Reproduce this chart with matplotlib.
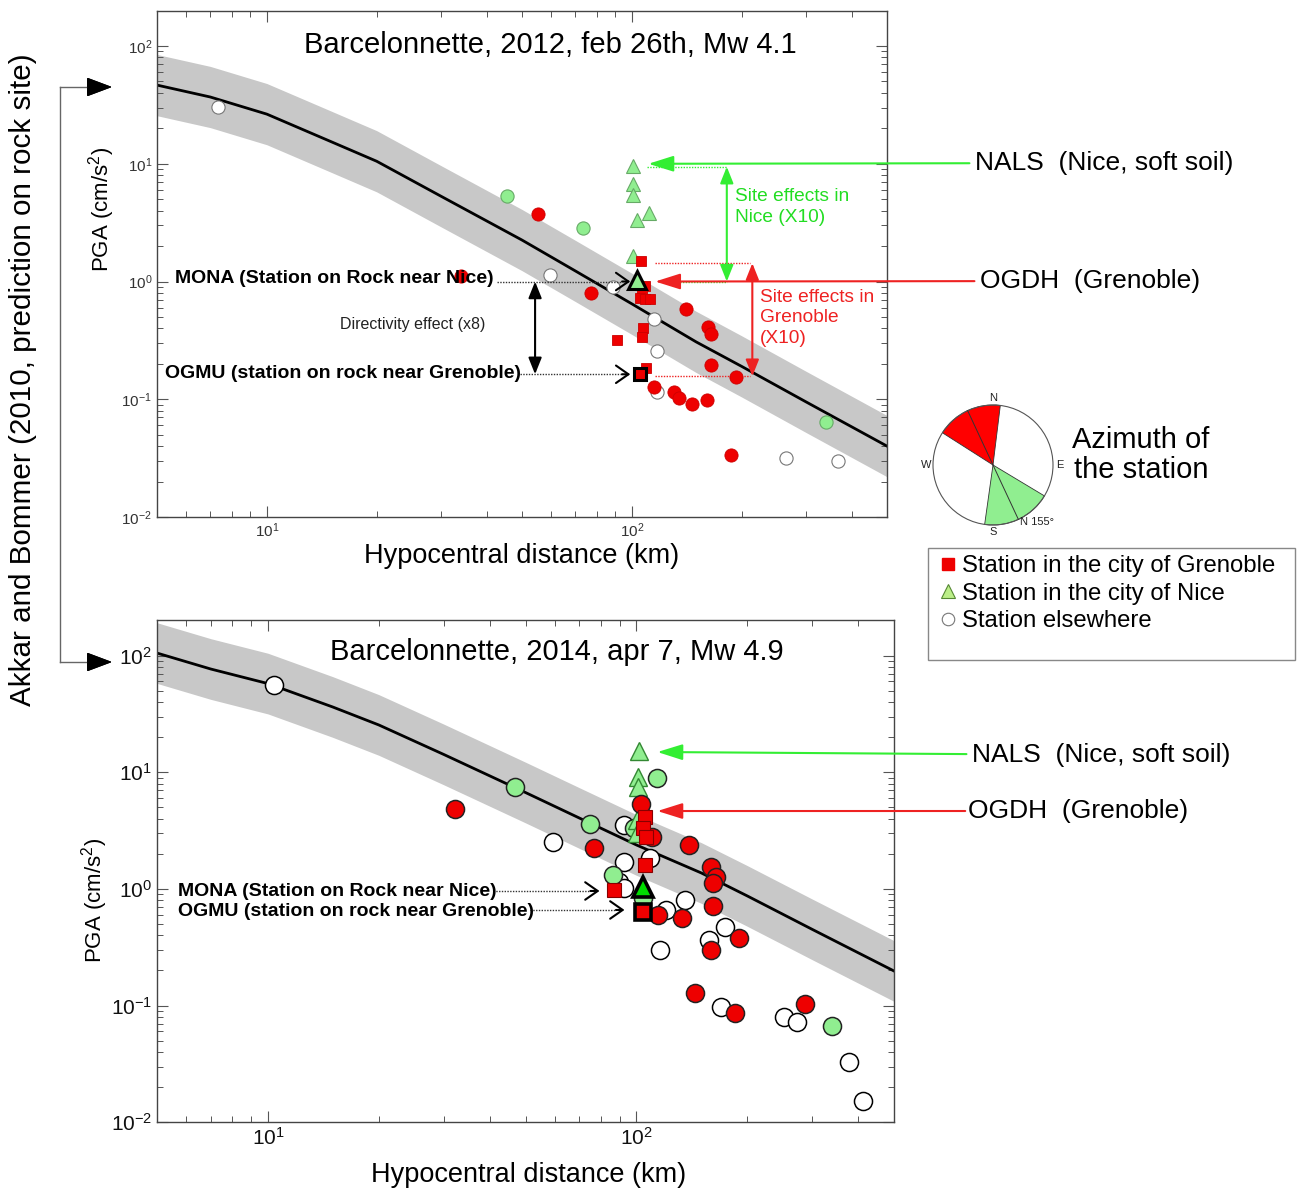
import numpy as np
import matplotlib
matplotlib.use('Agg')
import matplotlib.pyplot as plt
from matplotlib.patches import Wedge, Circle, Rectangle
from matplotlib.lines import Line2D

plt.rcParams['font.family'] = ['Liberation Sans', 'DejaVu Sans']
plt.rcParams['mathtext.fontset'] = 'custom'
plt.rcParams['mathtext.rm'] = 'Liberation Sans'
plt.rcParams['mathtext.it'] = 'Liberation Sans:italic'
plt.rcParams['mathtext.bf'] = 'Liberation Sans:bold'

# ------------------------- data -------------------------
curve_dist = [5, 7, 10, 15, 20, 30, 50, 70, 100, 150, 200, 300, 500]
curve_2012 = [46.6, 36.9, 26.4, 15.4, 10.5, 5.3, 2.25, 1.23, 0.646, 0.307, 0.19, 0.095, 0.04]
curve_2014 = [105, 76.6, 57.5, 36.2, 25.4, 14.2, 6.7, 4.05, 2.38, 1.37, 0.87, 0.45, 0.198]
sigma_log10 = 0.26

# 2012 event
t_red_circ_d = [34, 55.2, 77.3, 140.6, 161.5, 164.9, 164.9, 193, 115, 130.6, 135, 146.4, 160.4, 186.6]
t_red_circ_pga = [1.11, 3.74, 0.80, 0.58, 0.41, 0.357, 0.195, 0.155, 0.127, 0.1155, 0.103, 0.0908, 0.098, 0.0335]
t_red_sq_d = [106, 108.8, 106.5, 105.4, 108.8, 112.2, 107.6, 106.5, 90.9, 109.5]
t_red_sq_pga = [1.50, 0.92, 0.79, 0.72, 0.71, 0.71, 0.40, 0.335, 0.318, 0.185]
t_green_tri_d = [100.6, 100.6, 100.6, 111.1, 103, 101]
t_green_tri_pga = [9.6, 6.7, 5.4, 3.84, 3.3, 1.66]
t_green_circ_d = [45.6, 73.6, 340]
t_green_circ_pga = [5.35, 2.83, 0.0635]
t_white_d = [7.33, 59.7, 88.8, 115.3, 117.2, 117.5, 264.5, 368]
t_white_pga = [30.5, 1.13, 0.90, 0.485, 0.258, 0.1155, 0.032, 0.030]
t_mona = [103.6, 1.03]
t_ogmu = [105.4, 0.163]

# 2014 event
b_red_circ_d = [32.2, 76.6, 102.9, 110.3, 139.1, 159.2, 164.3, 161.7, 114.2, 132.9, 161.7, 159.2, 190, 144, 184.8, 287.4]
b_red_circ_pga = [4.81, 2.23, 5.34, 2.80, 2.38, 1.55, 1.27, 1.12, 0.60, 0.56, 0.72, 0.30, 0.378, 0.129, 0.086, 0.103]
b_red_sq_d = [105.8, 104.4, 106, 105.7, 87]
b_red_sq_pga = [4.11, 3.31, 2.8, 1.60, 0.98]
b_green_tri_d = [101.9, 100.9, 100.9, 100.5, 100.5]
b_green_tri_pga = [15.3, 9.15, 7.4, 3.9, 3.0]
b_green_circ_d = [46.8, 74.6, 113.5, 98.6, 86.3, 104, 339.3]
b_green_circ_pga = [7.5, 3.6, 8.87, 3.3, 1.32, 0.83, 0.0673]
b_white_d = [10.36, 59.2, 92.8, 92.8, 108.8, 89.9, 92.8, 120.3, 135.7, 174, 157.7, 116.2, 170.1, 251, 272, 376.5, 410.8]
b_white_pga = [55.9, 2.54, 3.53, 1.71, 1.83, 1.15, 1.01, 0.66, 0.80, 0.47, 0.365, 0.30, 0.098, 0.080, 0.0728, 0.033, 0.0153]
b_mona = [104, 1.04]
b_ogmu = [104, 0.64]

# azimuth sectors (degrees clockwise from north)
az_grenoble = [302.5, 7]
az_nice = [121, 188]
az_axis = 155

xticks = [10, 100]
yticks = [1e-2, 1e-1, 1, 10, 100]

# ------------------------- figure -------------------------
W, H = 1303, 1191
fig = plt.figure(figsize=(W / 100, H / 100), dpi=100)


def F(px, py):
    return (px / W, 1 - py / H)


RED = '#ee0000'
LGREEN = '#90ee90'
GREEN_LINE = '#33ee33'
RED_LINE = '#ee2222'

axT = fig.add_axes([157 / W, 1 - 517 / H, 730 / W, 506.4 / H])
axB = fig.add_axes([157 / W, 1 - 1122.3 / H, 737 / W, 501.9 / H])


def setup(ax, fs, col):
    ax.set_xscale('log')
    ax.set_yscale('log')
    ax.set_xlim(5, 500)
    ax.set_ylim(1e-2, 200)
    ax.set_xticks(xticks)
    ax.set_yticks(yticks)
    ax.tick_params(which='both', direction='in', top=True, right=True, colors='#555555',
                   labelcolor=col, labelsize=fs)
    ax.tick_params(which='major', length=8, width=0.8)
    ax.tick_params(which='minor', length=4, width=0.7)
    for s in ax.spines.values():
        s.set_color('#444444')
        s.set_linewidth(1.0)


setup(axT, 11, '#333333')
setup(axB, 15, '#111111')


def curve(ax, vals):
    d = np.array(curve_dist, float)
    v = np.array(vals, float)
    ax.fill_between(d, v / 10 ** sigma_log10, v * 10 ** sigma_log10, color='#c8c8c8', lw=0, zorder=1)
    ax.plot(d, v, color='black', lw=2, zorder=2)


curve(axT, curve_2012)
curve(axB, curve_2014)

# ---- top markers ----
axT.plot(t_white_d, t_white_pga, 'o', ms=9.5, mfc='white', mec='#777777', mew=0.8, zorder=4, ls='none')
axT.plot(t_green_circ_d, t_green_circ_pga, 'o', ms=9.5, mfc=LGREEN, mec='#66aa66', mew=0.8, zorder=4, ls='none')
axT.plot(t_green_tri_d, t_green_tri_pga, '^', ms=10.5, mfc=LGREEN, mec='#66aa66', mew=0.8, zorder=4, ls='none')
axT.plot(t_red_circ_d, t_red_circ_pga, 'o', ms=9.5, mfc=RED, mec='#cc0000', mew=0.6, zorder=5, ls='none')
axT.plot(t_red_sq_d, t_red_sq_pga, 's', ms=7.5, mfc=RED, mec='#cc0000', mew=0.6, zorder=5, ls='none')
axT.plot([t_mona[0]], [t_mona[1]], '^', ms=13, mfc=LGREEN, mec='black', mew=2.2, zorder=6)
axT.plot([t_ogmu[0]], [t_ogmu[1]], 's', ms=9, mfc=RED, mec='black', mew=2.2, zorder=6)

# ---- bottom markers ----
axB.plot(b_white_d, b_white_pga, 'o', ms=13, mfc='white', mec='black', mew=1.1, zorder=4, ls='none')
axB.plot(b_green_circ_d, b_green_circ_pga, 'o', ms=13, mfc=LGREEN, mec='#222222', mew=1.1, zorder=4, ls='none')
axB.plot(b_green_tri_d, b_green_tri_pga, '^', ms=12.5, mfc=LGREEN, mec='#338833', mew=1.0, zorder=4, ls='none')
axB.plot(b_red_circ_d, b_red_circ_pga, 'o', ms=13, mfc=RED, mec='#222222', mew=1.1, zorder=5, ls='none')
axB.plot(b_red_sq_d, b_red_sq_pga, 's', ms=10, mfc=RED, mec='#880000', mew=0.8, zorder=5, ls='none')
axB.plot([b_mona[0]], [b_mona[1]], '^', ms=14, mfc='#00dd00', mec='black', mew=2.6, zorder=6)
axB.plot([b_ogmu[0]], [b_ogmu[1]], 's', ms=11, mfc=RED, mec='black', mew=2.6, zorder=6)

# ---- titles / labels ----
fig.text(*F(550, 45), 'Barcelonnette, 2012, feb 26th, Mw 4.1', fontsize=21, ha='center', va='center')
fig.text(*F(557, 652), 'Barcelonnette, 2014, apr 7, Mw 4.9', fontsize=21, ha='center', va='center')
fig.text(*F(522, 556), 'Hypocentral distance (km)', fontsize=19.5, ha='center', va='center')
fig.text(*F(529, 1175), 'Hypocentral distance (km)', fontsize=19.5, ha='center', va='center')
fig.text(*F(102, 209), 'PGA (cm/s$^2$)', fontsize=16, ha='center', va='center', rotation=90)
fig.text(*F(95, 900), 'PGA (cm/s$^2$)', fontsize=16, ha='center', va='center', rotation=90)
fig.text(*F(23, 380), 'Akkar and Bommer (2010, prediction on rock site)', fontsize=21.3,
         ha='center', va='center', rotation=90)

# left bracket
fig.add_artist(Line2D([60 / W, 60 / W], [1 - 87 / H, 1 - 662 / H], color='#666666', lw=1))
for yy in (87, 662):
    fig.add_artist(Line2D([60 / W, 95 / W], [1 - yy / H, 1 - yy / H], color='#666666', lw=1))
    fig.add_artist(plt.annotate('', xy=F(112, yy), xytext=F(92, yy), xycoords='figure fraction',
                                textcoords='figure fraction',
                                arrowprops=dict(arrowstyle='-|>,head_length=0.8,head_width=0.3',
                                                color='black', lw=1, mutation_scale=20,
                                                shrinkA=0, shrinkB=0)))

# ---- top annotations ----
bold = dict(fontsize=14, fontweight='bold', va='center', ha='left')
fig.text(*F(175, 278), 'MONA (Station on Rock near Nice)', **bold, zorder=10)
fig.text(*F(165, 374), 'OGMU (station on rock near Grenoble)', **bold, zorder=10)
fig.text(*F(340, 324), 'Directivity effect (x8)', fontsize=11.5, va='center', ha='left', color='#222222')


def dotted_arrow(ax, x0, x1, y, tipx):
    ax.plot([x0, x1], [y, y], ls=(0, (1, 1)), color='#333333', lw=1, zorder=7)
    ax.annotate('', xy=(tipx, y), xytext=(x1, y),
                arrowprops=dict(arrowstyle='->,head_length=0.5,head_width=0.35', color='black',
                                lw=1.5, mutation_scale=18, shrinkA=0, shrinkB=0), zorder=7)


dotted_arrow(axT, 42.7, 94, 1.0, 99)
dotted_arrow(axT, 49.4, 94, 0.163, 99)

dbl = '<|-|>,head_length=0.5,head_width=0.2'
axT.annotate('', xy=(54.3, 1.0), xytext=(54.3, 0.163),
             arrowprops=dict(arrowstyle=dbl, color='black', lw=1.5, mutation_scale=20, shrinkA=0, shrinkB=0))

# green: site effects in Nice
axT.plot([109.8, 182], [9.44, 9.44], ls=(0, (1, 1)), color=GREEN_LINE, lw=1)
axT.plot([122, 182], [1.0, 1.0], ls=(0, (1, 1)), color=GREEN_LINE, lw=1)
axT.annotate('', xy=(182, 9.44), xytext=(182, 1.0),
             arrowprops=dict(arrowstyle=dbl, color=GREEN_LINE, lw=1.5, mutation_scale=20, shrinkA=0, shrinkB=0))
fig.text(*F(735, 207), 'Site effects in\nNice (X10)', fontsize=13.8, color='#22dd22', va='center',
         ha='left', linespacing=1.27)

# red: site effects in Grenoble
axT.plot([115.8, 211], [1.43, 1.43], ls=(0, (1, 1)), color=RED_LINE, lw=1)
axT.plot([115.8, 211], [0.157, 0.157], ls=(0, (1, 1)), color=RED_LINE, lw=1)
axT.annotate('', xy=(213.8, 1.43), xytext=(213.8, 0.157),
             arrowprops=dict(arrowstyle=dbl, color=RED_LINE, lw=1.5, mutation_scale=20, shrinkA=0, shrinkB=0))
fig.text(*F(760, 318), 'Site effects in\nGrenoble\n(X10)', fontsize=13.8, color='#ee2222', va='center',
         ha='left', linespacing=1.27)

big = '-|>,head_length=0.7,head_width=0.22'
axT.annotate('NALS  (Nice, soft soil)', xy=(111, 10.0), xycoords='data',
             xytext=F(975, 163), textcoords='figure fraction', fontsize=19, va='center', ha='left',
             arrowprops=dict(arrowstyle=big, color=GREEN_LINE, lw=1.5, mutation_scale=22,
                             shrinkA=2, shrinkB=0), annotation_clip=False)
axT.annotate('OGDH  (Grenoble)', xy=(115.8, 1.0), xycoords='data',
             xytext=F(980, 281), textcoords='figure fraction', fontsize=19, va='center', ha='left',
             arrowprops=dict(arrowstyle=big, color=RED_LINE, lw=1.5, mutation_scale=22,
                             shrinkA=2, shrinkB=0), annotation_clip=False)

# ---- bottom annotations ----
fig.text(*F(178, 891), 'MONA (Station on Rock near Nice)', **bold, zorder=10)
fig.text(*F(178, 912), 'OGMU (station on rock near Grenoble)', **bold, zorder=10)
dotted_arrow(axB, 40.8, 75, 0.96, 79.4)
dotted_arrow(axB, 51.4, 88, 0.66, 92.8)
axB.annotate('NALS  (Nice, soft soil)', xy=(114, 14.9), xycoords='data',
             xytext=F(972, 755), textcoords='figure fraction', fontsize=19, va='center', ha='left',
             arrowprops=dict(arrowstyle=big, color=GREEN_LINE, lw=1.5, mutation_scale=22,
                             shrinkA=2, shrinkB=0), annotation_clip=False)
axB.annotate('OGDH  (Grenoble)', xy=(114, 4.65), xycoords='data',
             xytext=F(968, 811), textcoords='figure fraction', fontsize=19, va='center', ha='left',
             arrowprops=dict(arrowstyle=big, color=RED_LINE, lw=1.5, mutation_scale=22,
                             shrinkA=0, shrinkB=0), annotation_clip=False)

# ---- azimuth rose ----
R_px = 60
cx, cy = 993, 465
axP = fig.add_axes([(cx - 80) / W, 1 - (cy + 80) / H, 160 / W, 160 / H])
axP.set_xlim(-80 / R_px, 80 / R_px)
axP.set_ylim(-80 / R_px, 80 / R_px)
axP.set_aspect('equal')
axP.axis('off')


def m(az):
    return 90 - az


axP.add_patch(Wedge((0, 0), 1, m(az_grenoble[1]), m(az_grenoble[0]) + 360, facecolor='#ff0000',
                    edgecolor='#333333', lw=0.6))
axP.add_patch(Wedge((0, 0), 1, m(az_nice[1]), m(az_nice[0]), facecolor=LGREEN,
                    edgecolor='#333333', lw=0.6))
axP.add_patch(Circle((0, 0), 1, facecolor='none', edgecolor='#555555', lw=0.8))
for az in (az_axis, az_axis + 180):
    a = np.deg2rad(m(az))
    axP.plot([0, np.cos(a)], [0, np.sin(a)], color='#333333', lw=0.7)
lab = dict(fontsize=8, ha='center', va='center', color='#222222')
axP.text(0, 1.12, 'N', **lab)
axP.text(0, -1.12, 'S', **lab)
axP.text(1.12, 0, 'E', **lab)
axP.text(-1.12, 0, 'W', **lab)
axP.text(0.45, -0.95, 'N 155°', fontsize=8, ha='left', va='center', color='#222222')
fig.text(*F(1141, 455), 'Azimuth of\nthe station', fontsize=21, ha='center', va='center',
         linespacing=1.05)

# ---- legend ----
fig.add_artist(Rectangle(F(928, 660), 367 / W, 112 / H, transform=fig.transFigure,
                         facecolor='white', edgecolor='#888888', lw=1))
handles = [
    Line2D([], [], marker='s', ls='none', ms=8, mfc=RED, mec=RED),
    Line2D([], [], marker='^', ls='none', ms=10, mfc='#bbee88', mec='#558833', mew=0.8),
    Line2D([], [], marker='o', ls='none', ms=9, mfc='white', mec='#777777', mew=0.8),
]
labels = ['Station in the city of Grenoble', 'Station in the city of Nice', 'Station elsewhere']
fig.legend(handles, labels, loc='upper left', bbox_to_anchor=F(941, 555), frameon=False,
           fontsize=17.2, handlelength=0.6, handletextpad=0.3, labelspacing=0.24, borderpad=0,
           borderaxespad=0)

fig.savefig('out.png', dpi=100)
